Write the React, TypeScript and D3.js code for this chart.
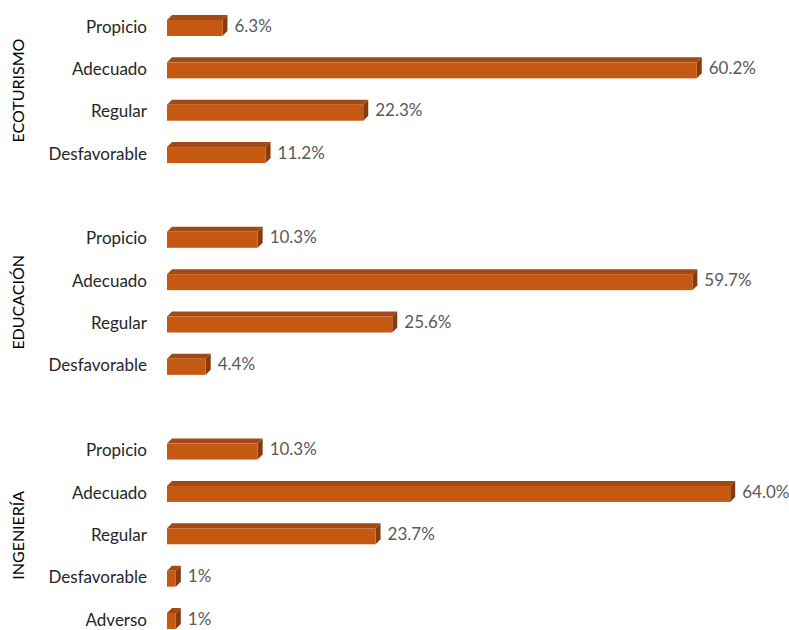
import React from "react";
import * as d3 from "d3";

const groups = ["ECOTURISMO", "EDUCACIÓN", "INGENIERÍA"];
const categories = [
  ["Propicio", "Adecuado", "Regular", "Desfavorable"],
  ["Propicio", "Adecuado", "Regular", "Desfavorable"],
  ["Propicio", "Adecuado", "Regular", "Desfavorable", "Adverso"],
];
const values = [
  [6.3, 60.2, 22.3, 11.2],
  [10.3, 59.7, 25.6, 4.4],
  [10.3, 64.0, 23.7, 1, 1],
];
const valueLabels = [
  ["6.3%", "60.2%", "22.3%", "11.2%"],
  ["10.3%", "59.7%", "25.6%", "4.4%"],
  ["10.3%", "64.0%", "23.7%", "1%", "1%"],
];

const W = 789;
const H = 630;
const FONT = "Lato, 'Open Sans', sans-serif";

export default function App() {
  const slots: { g: number; i: number; key: string }[] = [];
  groups.forEach((_, g) => {
    if (g > 0) slots.push({ g: -1, i: -1, key: `gap${g}` });
    categories[g].forEach((_, i) => slots.push({ g, i, key: `${g}-${i}` }));
  });
  const y = d3
    .scalePoint<string>()
    .domain(slots.map((s) => s.key))
    .range([27, 620]);
  const x = d3.scaleLinear().domain([0, 70]).range([167, 783]);
  const bh = 16;
  const dx = 5;
  const dy = 5;

  return (
    <svg width={W} height={H} style={{ position: "absolute", left: 0, top: 0, background: "#fff" }}>
      {slots
        .filter((s) => s.g >= 0)
        .map((s) => {
          const v = values[s.g][s.i];
          const cy = y(s.key)!;
          const x0 = x(0);
          const x1 = x(v);
          const t = cy - bh / 2 + 1;
          const b = t + bh;
          return (
            <g key={s.key}>
              <polygon
                points={`${x0},${t} ${x0 + dx},${t - dy} ${x1 + dx},${t - dy} ${x1},${t}`}
                fill="#A34A14"
              />
              <polygon
                points={`${x1},${t} ${x1 + dx},${t - dy} ${x1 + dx},${b - dy} ${x1},${b}`}
                fill="#8A3A0A"
              />
              <rect x={x0} y={t} width={x1 - x0} height={bh} fill="#C65911" />
              <text
                x={147}
                y={cy}
                dy="0.33em"
                textAnchor="end"
                fontFamily={FONT}
                fontSize={17}
                fill="#262626"
              >
                {categories[s.g][s.i]}
              </text>
              <text
                x={x1 + 12}
                y={cy - 1}
                dy="0.33em"
                fontFamily={FONT}
                fontSize={17}
                fill="#595959"
              >
                {valueLabels[s.g][s.i]}
              </text>
            </g>
          );
        })}
      {groups.map((gname, g) => {
        const keys = categories[g].map((_, i) => `${g}-${i}`);
        const mid = (y(keys[0])! + y(keys[keys.length - 1])!) / 2;
        return (
          <text
            key={gname}
            transform={`translate(18,${mid}) rotate(-90)`}
            textAnchor="middle"
            dy="0.35em"
            fontFamily={FONT}
            fontSize={16}
            fill="#000"
          >
            {gname}
          </text>
        );
      })}
    </svg>
  );
}
